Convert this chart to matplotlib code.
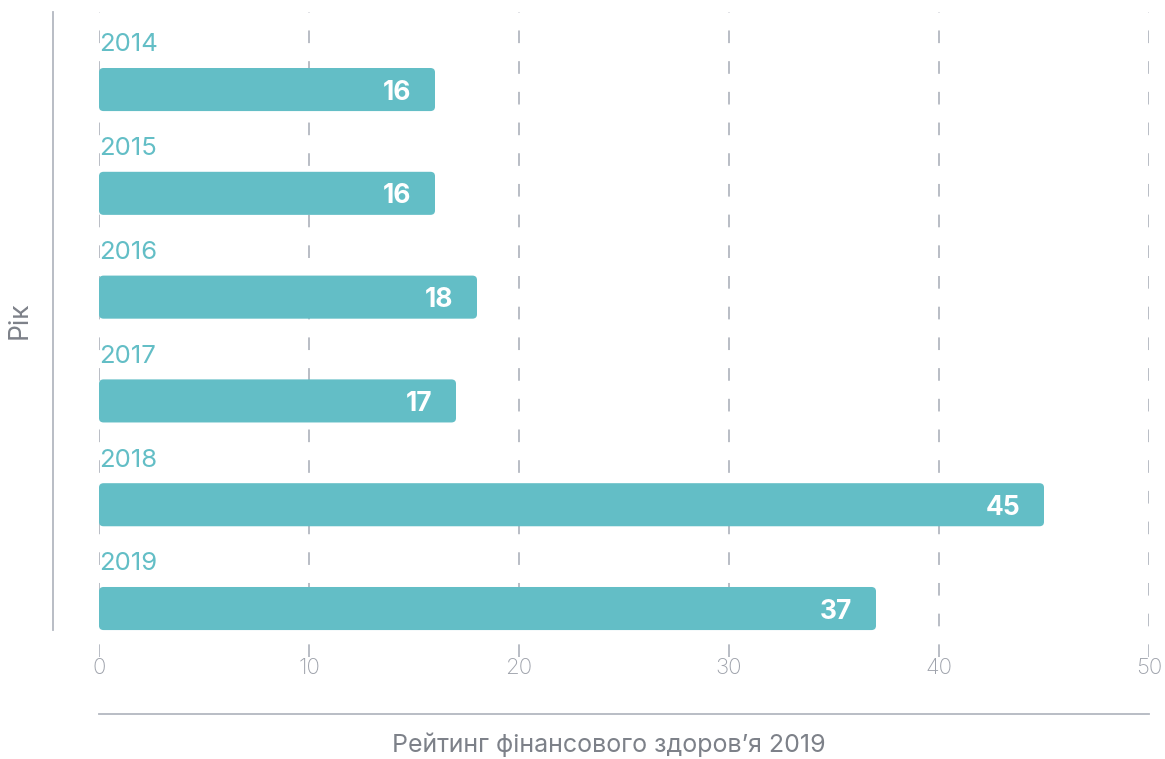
import matplotlib
matplotlib.use("Agg")
import matplotlib.pyplot as plt
from matplotlib.patches import FancyBboxPatch
from matplotlib.lines import Line2D

years = ["2014", "2015", "2016", "2017", "2018", "2019"]
values = [16, 16, 18, 17, 45, 37]
x_ticks = [0, 10, 20, 30, 40, 50]
x_label = "Рейтинг фінансового здоров’я 2019"
y_label = "Рік"

teal = "#63BEC6"
grid_c = "#b3b7c0"
tick_c = "#9ea2ab"
label_c = "#7d8189"

plt.rcParams['font.family'] = ['Inter', 'DejaVu Sans']

fig = plt.figure(figsize=(11.65, 7.59), dpi=100)
W, H = 1165, 759
ax = fig.add_axes([99 / W, 1 - 657 / H, (1149 - 99) / W, (657 - 12) / H])

ax.set_xlim(0, 50)
ax.set_ylim(5.467, -0.747)

for x in x_ticks:
    ax.axvline(x, color=grid_c, lw=1.3, ls=(0, (7, 10)), zorder=0)

bh = 0.415
for i, (y, v) in enumerate(zip(years, values)):
    p = FancyBboxPatch((0, i - bh / 2), v, bh,
                       boxstyle="round,pad=0,rounding_size=0.22",
                       mutation_aspect=0.19,
                       fc=teal, ec="none", zorder=2)
    ax.add_patch(p)
    ax.annotate(str(v), xy=(v, i), xytext=(-17, 0), textcoords="offset points",
                ha="right", va="center_baseline", color="white", fontsize=19,
                fontweight="bold", zorder=3)
    ax.text(0, i - 0.43, y, ha="left", va="center", color=teal,
            fontsize=18.5, zorder=3)

ax.set_xticks([])
ax.set_yticks([])
for s in ax.spines.values():
    s.set_visible(False)

for x in x_ticks:
    fx = (99 + x * 21) / W
    fig.text(fx, 1 - 668 / H, str(x), ha="center", va="center",
             color=tick_c, fontsize=16, fontweight="light")

fig.add_artist(Line2D([53 / W, 53 / W], [1 - 12 / H, 1 - 630 / H],
                      color=grid_c, lw=1.3))
fig.add_artist(Line2D([99 / W, 1149 / W], [1 - 714 / H, 1 - 714 / H],
                      color=grid_c, lw=1.3))

fig.text(609 / W, 1 - 745 / H, x_label, ha="center", va="center",
         color=label_c, fontsize=18)
fig.text(20 / W, 1 - 320 / H, y_label, ha="center", va="center",
         rotation=90, color=label_c, fontsize=19)

fig.savefig("out.png", dpi=100)
